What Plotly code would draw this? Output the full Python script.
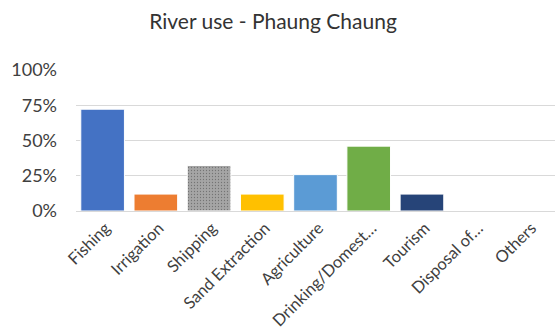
import plotly.graph_objects as go

# data
categories = ['Fishing', 'Irrigation', 'Shipping', 'Sand Extraction', 'Agriculture',
              'Drinking/Domest...', 'Tourism', 'Disposal of...', 'Others']
share = [0.722, 0.12, 0.323, 0.12, 0.258, 0.46, 0.12, 0.0, 0.0]
colors = ['#4472C4', '#ED7D31', '#A5A5A5', '#FFC000', '#5B9BD5',
          '#70AD47', '#264478', '#9E480E', '#636363']
tick_vals = [0, 0.25, 0.5, 0.75, 1.0]

labels = [c.replace('...', '\u2026') for c in categories]

fig = go.Figure()
fig.add_trace(go.Bar(
    x=labels,
    y=share,
    marker=dict(
        color=colors,
        line=dict(color='white', width=1),
        pattern=dict(
            shape=['', '', '.', '', '', '', '', '', ''],
            fgcolor='#989898',
            size=3,
            solidity=0.15,
        ),
    ),
    showlegend=False,
))

fig.update_layout(
    width=555,
    height=329,
    margin=dict(l=76, r=0, t=70, b=118, autoexpand=False),
    paper_bgcolor='white',
    plot_bgcolor='white',
    bargap=0.18,
    font=dict(family='Lato, Carlito, Calibri, sans-serif', color='#404040'),
    title=dict(
        text='River use - Phaung Chaung',
        x=0.492, xanchor='center', xref='container',
        y=1 - 22 / 329, yanchor='middle', yref='container',
        font=dict(size=21, color='#333333'),
        automargin=False,
    ),
)
fig.update_yaxes(
    range=[0, 1.0],
    tickvals=tick_vals,
    tickformat='.0%',
    tickfont=dict(size=18),
    showgrid=True,
    gridcolor='#d9d9d9',
    gridwidth=1,
    zeroline=False,
    showline=False,
    ticklabelstandoff=18,
    automargin=False,
    fixedrange=True,
)
fig.update_xaxes(
    tickangle=-45,
    tickfont=dict(size=16.5),
    showline=True,
    linecolor='#d9d9d9',
    linewidth=1,
    showgrid=False,
    ticklabelstandoff=0,
    ticklabelshift=3,
    automargin=False,
)

# the page body has a default 8px margin; drop it so the figure fills the window
fig.write_html("out.html", config={'displayModeBar': False},
               post_script="document.body.style.margin='0';")
